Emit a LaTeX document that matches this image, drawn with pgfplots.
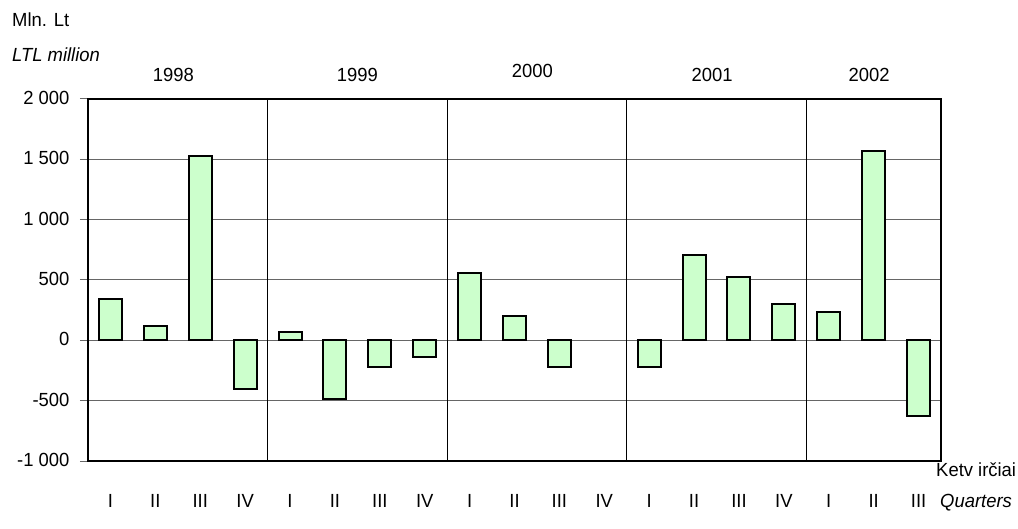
\documentclass[border=0pt]{standalone}
\usepackage{pgfplots}
\pgfplotsset{compat=1.18}
\usepackage{fontspec}
\setmainfont{Liberation Sans}[FakeStretch=0.97]
\definecolor{barfill}{HTML}{CCFFCC}
\definecolor{gridgray}{HTML}{666666}
\begin{document}
\fontsize{19bp}{23bp}\selectfont
\begin{tikzpicture}
\useasboundingbox (0,0) rectangle (1018bp,529bp);
\begin{axis}[
  at={(88bp,68bp)}, anchor=south west,
  scale only axis, width=853bp, height=362bp,
  xmin=-0.5, xmax=18.5, ymin=-1000, ymax=2000,
  ytick={-1000,-500,0,500,1000,1500,2000},
  yticklabels={-1 000,-500,0,500,1 000,1 500,2 000},
  xtick={0,...,18},
  xticklabels={I,II,III,IV,I,II,III,IV,I,II,III,IV,I,II,III,IV,I,II,III},
  ymajorgrids,
  major grid style={draw=gridgray, line width=1bp},
  axis line style={line width=2bp, black},
  tick align=outside,
  ytick pos=left, xtick pos=bottom,
  major tick length=8bp,
  ytick style={draw=gridgray, line width=1bp},
  xtick style={draw=none},
  tick label style={font=\fontsize{19bp}{23bp}\selectfont},
  yticklabel style={xshift=-4bp, yshift=1bp},
  xticklabel style={yshift=-19bp},
  extra x ticks={3.5,7.5,11.5,15.5},
  extra x tick labels={},
  extra x tick style={grid=major, major grid style={draw=black, line width=1bp}, tick style={draw=none}},
  clip=false,
]
\addplot[ybar, bar width=23bp, fill=barfill, draw=black, line width=2bp] coordinates {
  (0,345) (1,115) (2,1530) (3,-400)
  (4,70) (5,-485) (6,-220) (7,-135)
  (8,560) (9,200) (10,-220)
  (12,-218) (13,710) (14,525) (15,300)
  (16,235) (17,1565) (18,-630)
};
\node[anchor=base, yshift=17bp] at (axis cs:1.4,2000) {1998};
\node[anchor=base, yshift=17bp] at (axis cs:5.5,2000) {1999};
\node[anchor=base, yshift=21bp] at (axis cs:9.4,2000) {2000};
\node[anchor=base, yshift=17bp] at (axis cs:13.4,2000) {2001};
\node[anchor=base, yshift=17bp] at (axis cs:16.9,2000) {2002};
\end{axis}
\node[anchor=base west, inner sep=0pt] at (12bp,502bp) {Mln. Lt};
\node[anchor=base west, inner sep=0pt] at (12bp,467bp) {\itshape LTL million};
\node[anchor=base west, inner sep=0pt] at (936bp,52bp) {Ketv irčiai};
\node[anchor=base west, inner sep=0pt] at (940bp,22bp) {\itshape Quarters};
\end{tikzpicture}
\end{document}
